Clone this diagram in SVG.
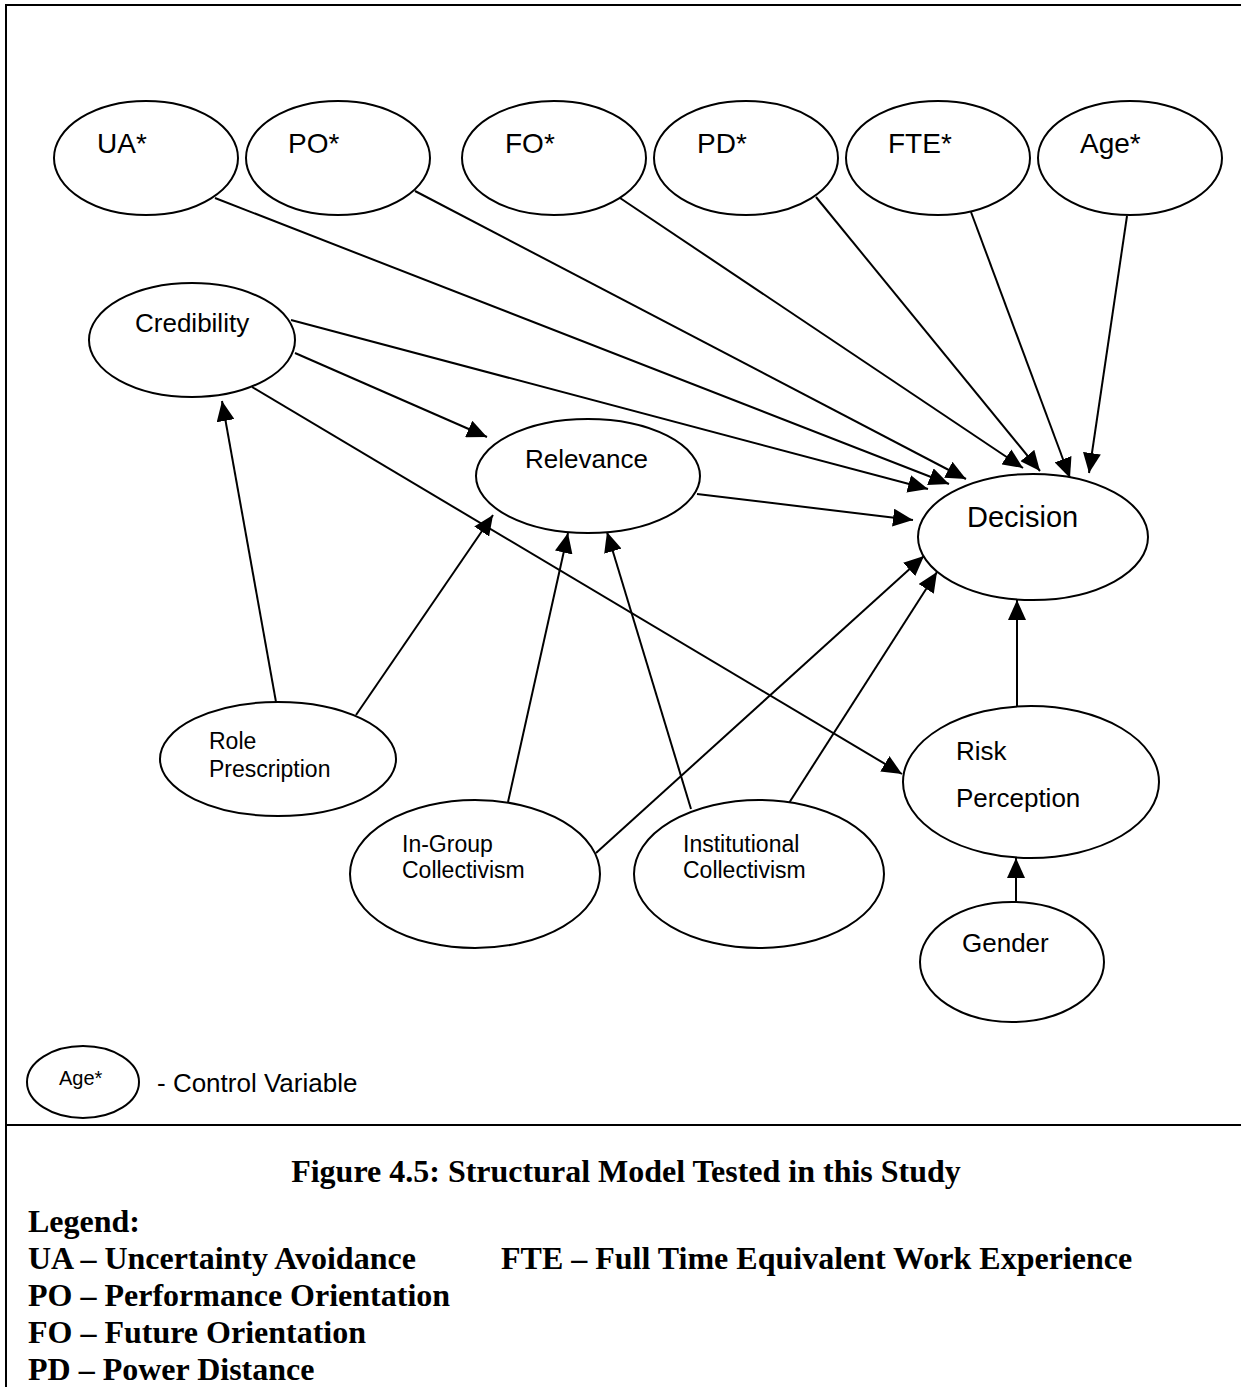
<svg xmlns="http://www.w3.org/2000/svg" width="1241" height="1387" viewBox="0 0 1241 1387">
  <style>
    .node ellipse { fill: #ffffff; stroke: #000000; stroke-width: 2; }
    .lbl { font-family: "Liberation Sans", Arial, sans-serif; fill: #000000; }
    .top { font-size: 28px; }
    .mid { font-size: 26px; }
    .sm { font-size: 23px; }
    .edges line { stroke: #000000; stroke-width: 2; marker-end: url(#arrow); }
    .frame { fill: none; stroke: #000000; stroke-width: 2; }
    .cap { font-family: "Liberation Serif", "Times New Roman", serif; font-weight: bold; font-size: 32px; fill: #000000; }
  </style>
  <defs>
    <marker id="arrow" viewBox="0 0 20 18" refX="20" refY="9" markerWidth="20" markerHeight="18" markerUnits="userSpaceOnUse" orient="auto">
      <path d="M0,0 L20,9 L0,18 z" fill="#000000"/>
    </marker>
  </defs>
  <rect width="1241" height="1387" fill="#ffffff"/>

  <!-- outer frame and separator above the caption -->
  <path class="frame" d="M6,1387 V5 H1241"/>
  <line class="frame" x1="6" y1="1125" x2="1241" y2="1125"/>

  <!-- connectors -->
  <g class="edges">
    <line x1="215" y1="198" x2="949" y2="484"/>
    <line x1="415" y1="191" x2="966" y2="479"/>
    <line x1="620" y1="198" x2="1023" y2="468"/>
    <line x1="816" y1="197" x2="1040" y2="471"/>
    <line x1="971" y1="212" x2="1070" y2="478"/>
    <line x1="1127" y1="216" x2="1089" y2="473"/>
    <line x1="291" y1="320" x2="928" y2="489"/>
    <line x1="295" y1="353" x2="487" y2="437"/>
    <line x1="252" y1="387" x2="902" y2="774"/>
    <line x1="697" y1="494" x2="913" y2="520"/>
    <line x1="276" y1="702" x2="222" y2="401"/>
    <line x1="356" y1="715" x2="493" y2="515"/>
    <line x1="508" y1="802" x2="568" y2="533"/>
    <line x1="691" y1="809" x2="607" y2="532"/>
    <line x1="596" y1="853" x2="924" y2="556"/>
    <line x1="789" y1="803" x2="937" y2="572"/>
    <line x1="1017" y1="706" x2="1017" y2="600"/>
    <line x1="1016" y1="902" x2="1016" y2="858"/>
  </g>

  <!-- control variables -->
  <g id="ua" class="node">
    <ellipse cx="146" cy="158" rx="92" ry="57"/>
    <text class="lbl top" x="97" y="153">UA*</text>
  </g>
  <g id="po" class="node">
    <ellipse cx="338" cy="158" rx="92" ry="57"/>
    <text class="lbl top" x="288" y="153">PO*</text>
  </g>
  <g id="fo" class="node">
    <ellipse cx="554" cy="158" rx="92" ry="57"/>
    <text class="lbl top" x="505" y="153">FO*</text>
  </g>
  <g id="pd" class="node">
    <ellipse cx="746" cy="158" rx="92" ry="57"/>
    <text class="lbl top" x="697" y="153">PD*</text>
  </g>
  <g id="fte" class="node">
    <ellipse cx="938" cy="158" rx="92" ry="57"/>
    <text class="lbl top" x="888" y="153">FTE*</text>
  </g>
  <g id="age" class="node">
    <ellipse cx="1130" cy="158" rx="92" ry="57"/>
    <text class="lbl top" x="1080" y="153">Age*</text>
  </g>

  <!-- constructs -->
  <g id="credibility" class="node">
    <ellipse cx="192" cy="340" rx="103" ry="57"/>
    <text class="lbl mid" x="135" y="332">Credibility</text>
  </g>
  <g id="relevance" class="node">
    <ellipse cx="588" cy="476" rx="112" ry="57"/>
    <text class="lbl mid" x="525" y="468">Relevance</text>
  </g>
  <g id="decision" class="node">
    <ellipse cx="1033" cy="537" rx="115" ry="63"/>
    <text class="lbl" style="font-size:29px" x="967" y="527">Decision</text>
  </g>
  <g id="role" class="node">
    <ellipse cx="278" cy="759" rx="118" ry="57"/>
    <text class="lbl sm" x="209" y="749">Role</text>
    <text class="lbl sm" x="209" y="777">Prescription</text>
  </g>
  <g id="ingroup" class="node">
    <ellipse cx="475" cy="874" rx="125" ry="74"/>
    <text class="lbl sm" x="402" y="852">In-Group</text>
    <text class="lbl sm" x="402" y="878">Collectivism</text>
  </g>
  <g id="institutional" class="node">
    <ellipse cx="759" cy="874" rx="125" ry="74"/>
    <text class="lbl sm" x="683" y="852">Institutional</text>
    <text class="lbl sm" x="683" y="878">Collectivism</text>
  </g>
  <g id="risk" class="node">
    <ellipse cx="1031" cy="782" rx="128" ry="76"/>
    <text class="lbl mid" x="956" y="760">Risk</text>
    <text class="lbl mid" x="956" y="807">Perception</text>
  </g>
  <g id="gender" class="node">
    <ellipse cx="1012" cy="962" rx="92" ry="60"/>
    <text class="lbl mid" x="962" y="952">Gender</text>
  </g>

  <!-- key for the control-variable symbol -->
  <g id="key" class="node">
    <ellipse cx="83" cy="1082" rx="56" ry="36"/>
    <text class="lbl" style="font-size:20px" x="59" y="1085">Age*</text>
    <text class="lbl" style="font-size:26px" x="157" y="1092">- Control Variable</text>
  </g>

  <!-- caption and abbreviations -->
  <text class="cap" x="626" y="1182" text-anchor="middle">Figure 4.5: Structural Model Tested in this Study</text>
  <text class="cap" x="28" y="1232">Legend:</text>
  <text class="cap" x="28" y="1269">UA – Uncertainty Avoidance</text>
  <text class="cap" x="501" y="1269">FTE – Full Time Equivalent Work Experience</text>
  <text class="cap" x="28" y="1306">PO – Performance Orientation</text>
  <text class="cap" x="28" y="1343">FO – Future Orientation</text>
  <text class="cap" x="28" y="1380">PD – Power Distance</text>
</svg>
